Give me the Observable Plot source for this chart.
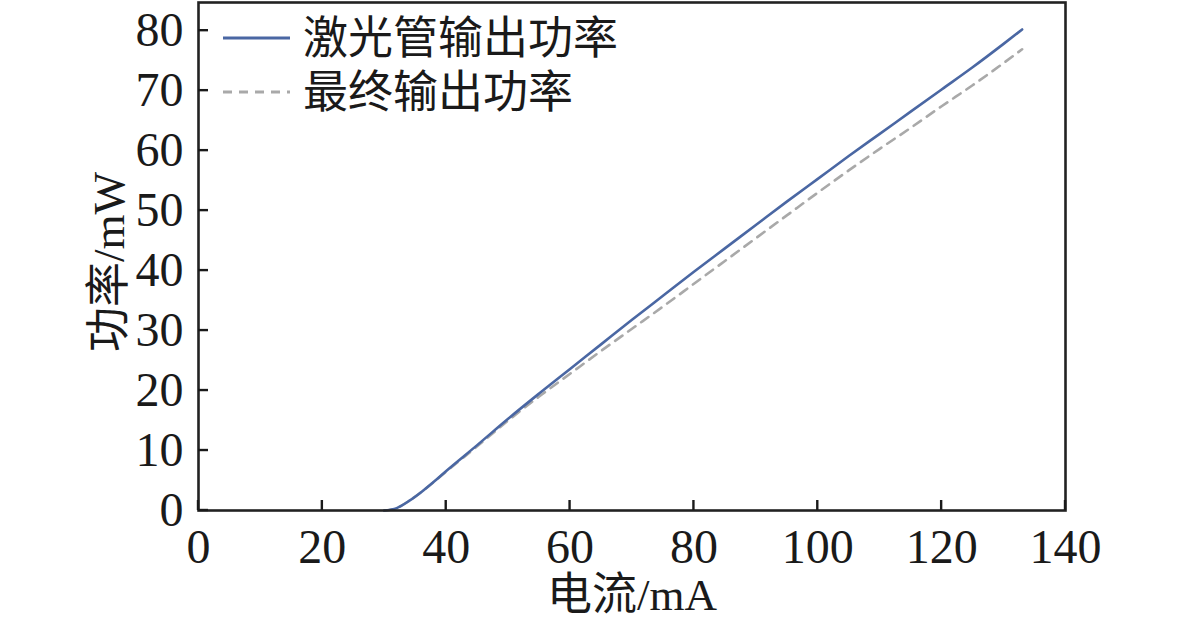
<!DOCTYPE html>
<html>
<head>
<meta charset="utf-8">
<script src="https://cdn.jsdelivr.net/npm/d3@7"></script>
<script src="https://cdn.jsdelivr.net/npm/@observablehq/plot@0.6"></script>
<style>
  html, body { margin: 0; padding: 0; background: #fff; }
  #wrap { position: relative; width: 1181px; height: 623px; }
  svg { font-family: "Liberation Serif", "Noto Sans CJK SC", serif; }
</style>
</head>
<body>
<div id="wrap"></div>
<script>
// Current (mA)
const current = [30, 32, 34, 36, 38, 40, 45, 50, 55, 60, 65, 70, 75, 80, 85, 90, 95, 100, 105, 110, 115, 120, 125, 130, 133];
// 激光管输出功率 (mW)
const tubePower = [0, 0.4, 1.6, 3.1, 4.8, 6.6, 10.9, 15.3, 19.5, 23.6, 27.7, 31.8, 35.8, 39.8, 43.7, 47.6, 51.5, 55.3, 59.1, 62.8, 66.5, 70.2, 73.9, 77.8, 80.2];
// 最终输出功率 (mW)
const finalPower = [0, 0.4, 1.6, 3.1, 4.75, 6.5, 10.7, 15.0, 19.0, 22.8, 26.6, 30.3, 34.0, 37.8, 41.6, 45.4, 49.2, 53.0, 56.7, 60.3, 63.8, 67.4, 70.9, 74.6, 76.9];

const xTicks = [0, 20, 40, 60, 80, 100, 120, 140];
const yTicks = [0, 10, 20, 30, 40, 50, 60, 70, 80];
const seriesNames = ["激光管输出功率", "最终输出功率"];
const xLabel = "电流/mA";
const yLabel = "功率/mW";

const tubeData = current.map((c, i) => ({x: c, y: tubePower[i]}));
const finalData = current.map((c, i) => ({x: c, y: finalPower[i]}));

const blue = "#4a67a3";
const grey = "#a9a9a9";
const ink = "#1a1a1a";
const font = '"Liberation Serif", "Noto Sans CJK SC", serif';

const plot = Plot.plot({
  width: 1181,
  height: 623,
  marginLeft: 198,
  marginRight: 116,
  marginTop: 2,
  marginBottom: 113,
  style: {fontSize: "48px", fontFamily: font, color: ink, background: "#fff"},
  x: {domain: [0, 140]},
  y: {domain: [0, 84.7]},
  marks: [
    Plot.line(finalData, {x: "x", y: "y", stroke: grey, strokeWidth: 2.6, strokeDasharray: "9,7", curve: "monotone-x"}),
    Plot.line(tubeData, {x: "x", y: "y", stroke: blue, strokeWidth: 2.6, curve: "monotone-x"}),
    Plot.axisX({ticks: xTicks, tickSize: 0, tickPadding: 18, tickFormat: d => String(d), label: null, fontSize: 48, fill: ink}),
    Plot.axisY({ticks: yTicks, tickSize: 0, tickPadding: 15, tickFormat: d => String(d), label: null, fontSize: 48, fill: ink}),
    Plot.frame({stroke: "#222", strokeWidth: 2.6})
  ]
});

document.getElementById("wrap").appendChild(plot);

const svg = d3.select(plot);
const sx = plot.scale("x");
const sy = plot.scale("y");
const x0 = sx.apply(0);
const y0 = sy.apply(0);
const tickLen = 10;

// inward tick marks, placed with Plot's own scales
const tg = svg.append("g").attr("stroke", ink).attr("stroke-width", 2.4);
xTicks.forEach(t => {
  const px = sx.apply(t);
  tg.append("line").attr("x1", px).attr("x2", px).attr("y1", y0).attr("y2", y0 - tickLen);
});
yTicks.forEach(t => {
  const py = sy.apply(t);
  tg.append("line").attr("x1", x0).attr("x2", x0 + tickLen).attr("y1", py).attr("y2", py);
});

// axis titles
svg.append("text")
  .attr("x", 632).attr("y", 610)
  .attr("text-anchor", "middle")
  .attr("font-size", 45).attr("fill", ink)
  .text(xLabel);
svg.append("text")
  .attr("transform", "translate(124,262) rotate(-90)")
  .attr("text-anchor", "middle")
  .attr("font-size", 45).attr("fill", ink)
  .text(yLabel);

// in-frame legend
const leg = svg.append("g").attr("text-anchor", "start");
const legStyles = [{stroke: blue, dash: null}, {stroke: grey, dash: "9,7"}];
seriesNames.forEach((name, i) => {
  const cy = 38 + i * 54;
  const ln = leg.append("line")
    .attr("x1", 223).attr("x2", 290).attr("y1", cy).attr("y2", cy)
    .attr("stroke", legStyles[i].stroke).attr("stroke-width", 2.8);
  if (legStyles[i].dash) ln.attr("stroke-dasharray", legStyles[i].dash);
  leg.append("text")
    .attr("x", 303).attr("y", cy).attr("dy", "0.36em")
    .attr("text-anchor", "start")
    .attr("font-size", 45).attr("fill", ink)
    .text(name);
});
</script>
</body>
</html>
